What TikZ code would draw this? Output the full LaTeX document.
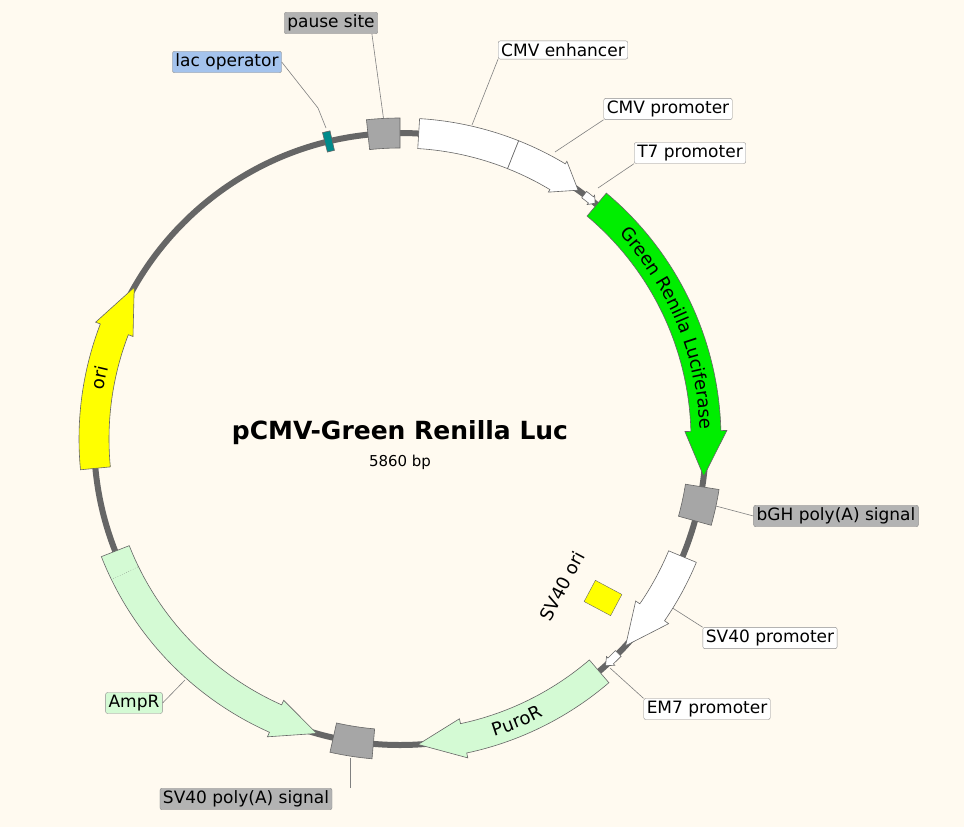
\documentclass[tikz,border=0pt]{standalone}
\usepackage{fontspec}
\setmainfont{DejaVu Sans}
\usetikzlibrary{decorations.text}
\definecolor{bg}{HTML}{FFFAF0}
\definecolor{bb}{HTML}{666666}
\definecolor{gfeat}{HTML}{A6A6A6}
\definecolor{glab}{HTML}{B3B3B3}
\definecolor{blab}{HTML}{A4C3ED}
\definecolor{lgr}{HTML}{D4FAD4}
\definecolor{grn}{HTML}{00EE00}
\definecolor{yel}{HTML}{FFFF00}
\definecolor{teal2}{HTML}{008B8B}
\newcommand\featbox[4]{\path[#1] ({90-#2}:{306+#4}) arc[start angle={90-#2}, end angle={90-#3}, radius={306+#4}] -- ({90-#3}:{306-#4}) arc[start angle={90-#3}, end angle={90-#2}, radius={306-#4}] -- cycle;}
\newcommand\featarrow[6]{\path[#1] ({90-#2}:{306+#5}) arc[start angle={90-#2}, end angle={90-#3}, radius={306+#5}] -- ({90-#3}:{306+#6}) -- ({90-#4}:306) -- ({90-#3}:{306-#6}) -- ({90-#3}:{306-#5}) arc[start angle={90-#3}, end angle={90-#2}, radius={306-#5}] -- cycle;}
\tikzset{
 lab/.style={draw=black!45, rounded corners=2pt, inner xsep=3pt, inner ysep=2.5pt, font=\fontsize{17}{19}\selectfont, fill=white},
 lead/.style={draw=black!50, line width=0.6pt},
 feat/.style={draw=bb, line width=0.6pt},
}
\begin{document}
\begin{tikzpicture}[x=1pt,y=1pt]
\fill[bg] (0,0) rectangle (964,-827);
\useasboundingbox (0,0) rectangle (964,-827);
% labels
\node[lab, fill=glab] (l1) at (331,-23) {pause site};
\node[lab, fill=blab] (l2) at (227,-62) {lac operator};
\node[lab] (l3) at (563,-50) {CMV enhancer};
\node[lab] (l4) at (668,-109) {CMV promoter};
\node[lab] (l5) at (690,-153) {T7 promoter};
\node[lab, fill=glab] (l6) at (836,-516) {bGH poly(A) signal};
\node[lab] (l7) at (770,-638) {SV40 promoter};
\node[lab] (l8) at (707,-709) {EM7 promoter};
\node[lab, fill=glab] (l9) at (246,-799) {SV40 poly(A) signal};
\node[lab, fill=lgr] (l10) at (134,-703) {AmpR};
% leaders
\coordinate (c1) at (384,-122);
\coordinate (c2) at (326,-128);
\coordinate (c3) at (472,-125);
\coordinate (c4) at (555,-152);
\coordinate (c5) at (598,-188);
\coordinate (c6) at (712,-505);
\coordinate (c7) at (660,-600);
\coordinate (c8) at (610,-668);
\coordinate (c9) at (350,-758);
\coordinate (c10) at (185,-680);
\draw[lead] (l1.south east) ++(-6,0) -- (c1);
\draw[lead] (l2.east) -- (318,-108) -- (c2);
\draw[lead] (l3.south west) -- (c3);
\draw[lead] (l4.south west) -- (c4);
\draw[lead] (l5.south west) -- (c5);
\draw[lead] (l6.west) -- (c6);
\draw[lead] (l7.north west) -- (c7);
\draw[lead] (l8.north west) -- (c8);
\draw[lead] (l9.north) ++(104,0) -- (c9);
\draw[lead] (l10.east) -- (c10);
\begin{scope}[shift={(400,-439)}]
\draw[bb, line width=6pt] (0,0) circle (306);
\featbox{fill=teal2,feat}{-14.2}{-12.8}{10}
\featbox{fill=gfeat,feat}{-6}{0}{15}
\featbox{fill=white,feat}{3.5}{21.7}{15}
\featarrow{fill=white,feat}{21.7}{31}{35.6}{15}{18}
\featarrow{fill=white,feat}{37}{38.6}{39.6}{4}{6}
\featarrow{fill=grn,feat}{40}{88.5}{97}{15}{21}
\featbox{fill=gfeat,feat}{99}{105.5}{17}
\featarrow{fill=white,feat}{112.6}{124.5}{132.5}{15}{20}
\featarrow{fill=white,feat}{134.5}{136.5}{137.8}{4}{6}
\featarrow{fill=lgr,feat}{139.4}{168}{176.6}{15}{20}
\featbox{fill=gfeat,feat}{185}{192.6}{15}
\featarrow{fill=lgr,feat}{248.5}{204}{195.8}{15}{20}
\draw[dotted, bb] ({90-244}:292) -- ({90-244}:320);
\featarrow{fill=yel,feat}{264.5}{291}{299.7}{15}{20}
% arc texts
\path[decorate,decoration={text along path, text align=center, raise=-6pt,
  text={|\fontsize{18}{20}\selectfont|Green Renilla Luciferase}}]
  ({90-41}:306) arc[start angle={90-41}, end angle={90-94}, radius=306];
\path[decorate,decoration={text along path, text align=center, raise=-6pt,
  text={|\fontsize{18}{20}\selectfont|ori}}]
  ({90-266}:306) arc[start angle={90-266}, end angle={90-297}, radius=306];
\path[decorate,decoration={text along path, text align=center, raise=-6pt,
  text={|\fontsize{18}{20}\selectfont|PuroR}}]
  ({90-174}:306) arc[start angle={90-174}, end angle={90-141}, radius=306];
\end{scope}
% SV40 ori
\node[draw=bb, fill=yel, minimum width=30pt, minimum height=24pt, rotate=-28, inner sep=0pt] (sv40ori) at (603,-598) {};
\node[rotate=62, font=\fontsize{18}{20}\selectfont] (sv40orilab) at (562,-586) {SV40 ori};
% title
\node[font=\bfseries\fontsize{25}{29}\selectfont] (title) at (400,-433) {pCMV-Green Renilla Luc};
\node[font=\fontsize{15}{17}\selectfont] (bp) at (400,-462) {5860 bp};
\end{tikzpicture}
\end{document}
